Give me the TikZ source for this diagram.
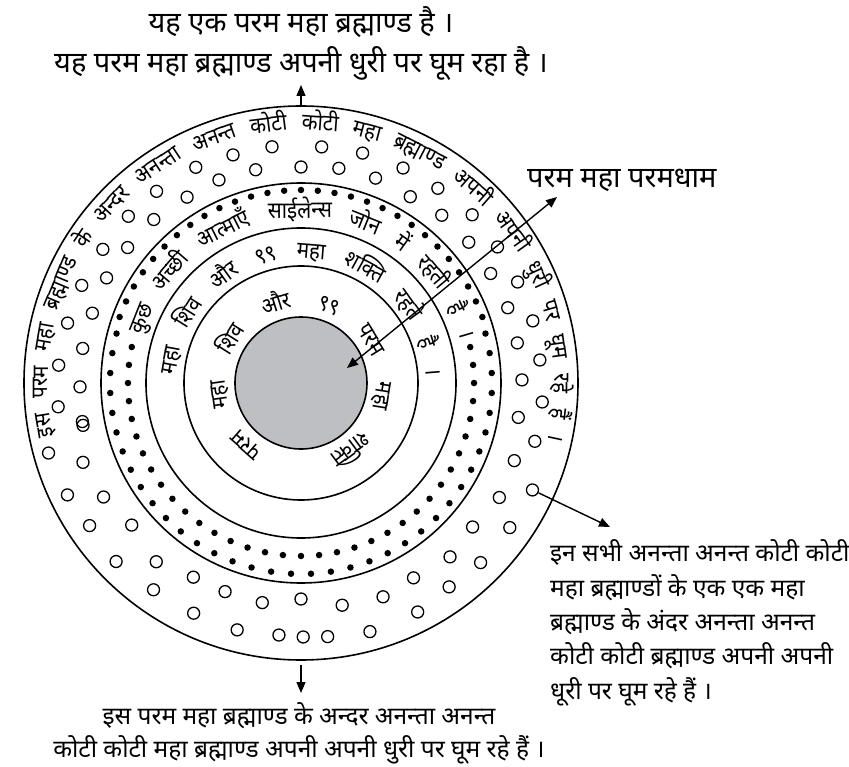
\documentclass[tikz,border=0pt]{standalone}
\usepackage{fontspec}
\usetikzlibrary{arrows.meta}
\newfontfamily\hindi[Script=Devanagari]{Noto Sans}
\newfontfamily\hindiarc[Script=Devanagari,FakeStretch=0.9]{Noto Sans}
\newcommand\arcfont{\hindiarc\fontsize{23}{25}\selectfont}
\definecolor{coregray}{RGB}{190,191,194}

% word/angle list for a ring, set clockwise from #3 to #4 (degrees)
\newlength\wordlen
\newcommand\ringlayout[5]{%
  \xdef\ringsum{0}\xdef\ringcount{0}%
  \foreach \w in {#5} {%
    \settowidth\wordlen{\arcfont\w}%
    \pgfmathsetmacro\tmpsum{\ringsum+\wordlen}\xdef\ringsum{\tmpsum}%
    \pgfmathtruncatemacro\tmpcount{\ringcount+1}\xdef\ringcount{\tmpcount}%
  }%
  \pgfmathsetmacro\ringgap{((#3-#4)*pi/180*(#2+8)-\ringsum)/(\ringcount-1)}%
  \xdef\ringpos{#3}\gdef#1{}%
  \foreach \w in {#5} {%
    \settowidth\wordlen{\arcfont\w}%
    \pgfmathsetmacro\wordmid{\ringpos-deg(\wordlen/2/(#2+8))}%
    \ifx#1\empty\xdef#1{\w/\wordmid}\else\xdef#1{#1,\w/\wordmid}\fi
    \pgfmathsetmacro\tmppos{\ringpos-deg((\wordlen+\ringgap)/(#2+8))}%
    \xdef\ringpos{\tmppos}%
  }%
}

\begin{document}
\ringlayout{\outerwords}{253}{192}{-13}{इस,परम,महा,ब्रह्माण्ड,के,अन्दर,अनन्ता,अनन्त,
  कोटी,कोटी,महा,ब्रह्माण्ड,अपनी,अपनी,धुरी,पर,घूम,रहे,हैं,।}%
\ringlayout{\silentwords}{165}{163}{15}{कुछ,अच्छी,आत्माएँ,साईलेन्स,जोन,में,रहती,है,।}%
\ringlayout{\pairwords}{125}{176}{3}{महा,शिव,और,९९,महा,शक्ति,रहते,है,।}%
\ringlayout{\corewords}{75}{240}{-68}{परम,महा,शिव,और,९९,परम,महा,शक्ति}%
\begin{tikzpicture}[x=1pt,y=1pt,
    ring/.style={circle,draw,line width=1.6pt,inner sep=0pt},
    hollow/.style={circle,draw,line width=1.3pt,minimum size=12pt,inner sep=0pt},
    soul/.style={circle,fill,minimum size=6.5pt,inner sep=0pt},
    arcword/.style={font=\arcfont,inner sep=0pt,anchor=base},
    note/.style={font=\hindi\fontsize{24.5}{34.3}\selectfont,inner sep=0pt},
    bignote/.style={font=\hindi\fontsize{29}{40}\selectfont,inner sep=0pt},
    ptr/.style={line width=1.4pt,-{Triangle[length=11pt,width=9pt]}},
    biptr/.style={line width=1.4pt,{Triangle[length=11pt,width=9pt]}-{Triangle[length=11pt,width=9pt]}}]
  \useasboundingbox (-301,-383) rectangle (548,383);

  % rings
  \node[ring,minimum size=554pt] (universe) at (0,0) {};
  \node[ring,minimum size=400pt] (silence) at (0,0) {};
  \node[ring,minimum size=310pt] (shakti) at (0,0) {};
  \node[ring,minimum size=234pt] (shiva) at (0,0) {};
  \node[ring,fill=coregray,minimum size=132pt] (dham) at (0,0) {};

  % small universes
  \foreach \a/\r in {185.6/244,175.8/243,165.6/241,156/240,146/239,136/240,127/240,
      116/240,106.6/238,97/238,85/237,75/238,64.6/238,54.9/238,44.5/240,34.7/239,
      25/239,15/240,5.5/240,-4.5/242,-14/241,-34.7/254,-45/254,-54/252,-63/257,
      -74.5/258,-84/255,-89.5/254,-95/253,-104.5/255,-115/254,-125.5/254,-136/257,
      -146/255,-154.4/259,-164.5/262}
    \node[hollow] at (\a:\r) {};
  \foreach \a/\r in {191/222,181/221,171/221,161.5/220,151.6/221,142/220,132/220,
      121.5/218,112/219,102/218,90/216,80/218,70/218,59.6/216,50/219,40/219,30/219,
      20/220,10.5/220,0.8/221,-9/220,-20/227,-30/229,-40/224,-49.4/229,-60/225,
      -69/229,-79.5/226,-90/216,-100/223,-110/222,-119/222,-129/230,-140/221,
      -150/228,-160/232,-170/222}
    \node[hollow] at (\a:\r) {};
  \node[hollow] (seed) at (-24.8:255) {};

  % good souls
  \foreach \a in {20,25,...,160}
    \node[soul] at (\a:193) {};
  \foreach \a in {165,171,...,375}
    \node[soul] at (\a:191) {};
  \foreach \a in {168,174,...,372}
    \node[soul] at (\a:173) {};

  % text round the rings
  \foreach \w/\a [count=\i] in \outerwords
    \node[arcword,rotate=\a-90] (outer\i) at (\a:253) {\w};
  \foreach \w/\a [count=\i] in \silentwords
    \node[arcword,rotate=\a-90] (silent\i) at (\a:165) {\w};
  \foreach \w/\a [count=\i] in \pairwords
    \node[arcword,rotate=\a-90] (pair\i) at (\a:125) {\w};
  \foreach \w/\a [count=\i] in \corewords
    \node[arcword,rotate=\a-90] (core\i) at (\a:75) {\w};

  % labels
  \node[bignote,align=center,anchor=base] (toptext) at (0,310)
    {यह एक परम महा ब्रह्माण्ड है ।\\यह परम महा ब्रह्माण्ड अपनी धुरी पर घूम रहा है ।};
  \node[bignote,anchor=base west] (dhamtext) at (226,195) {परम महा परमधाम};
  \node[note,align=center,anchor=base] (bottomtext) at (-2,-374)
    {इस परम महा ब्रह्माण्ड के अन्दर अनन्ता अनन्त\\[-1.3pt]कोटी कोटी महा ब्रह्माण्ड अपनी अपनी धुरी पर घूम रहे हैं ।};
  \node[note,align=left,anchor=base west] (seedtext) at (249,-316)
    {इन सभी अनन्ता अनन्त कोटी कोटी\\महा ब्रह्माण्डों के एक एक महा\\ब्रह्माण्ड के अंदर अनन्ता अनन्त\\कोटी कोटी ब्रह्माण्ड अपनी अपनी\\धूरी पर घूम रहे हैं ।};

  % arrows
  \coordinate (uptip) at (0,298);
  \coordinate (downtip) at (0,-310);
  \coordinate (righttip) at (309,-144);
  \coordinate (coreend) at (46,15);
  \coordinate (dhamend) at (256,186);
  \draw[ptr] (universe.north) -- (uptip);
  \draw[ptr] ([yshift=-4pt]universe.south) -- (downtip);
  \draw[ptr] (seed) -- (righttip);
  \draw[biptr] (coreend) -- (dhamend);
\end{tikzpicture}
\end{document}
